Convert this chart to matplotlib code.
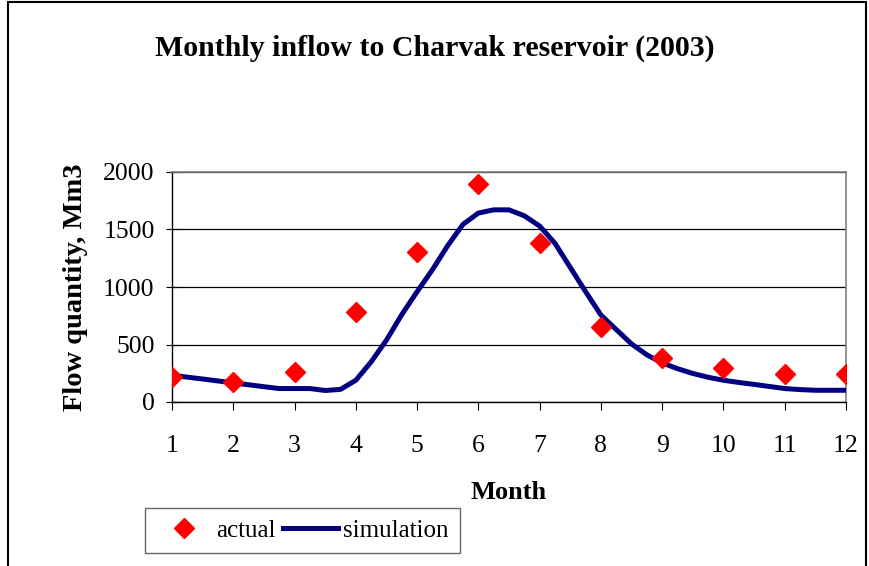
import numpy as np
import matplotlib
matplotlib.use("Agg")
import matplotlib.pyplot as plt
from matplotlib.patches import Rectangle

months = [1, 2, 3, 4, 5, 6, 7, 8, 9, 10, 11, 12]
actual = [215, 174, 259, 785, 1305, 1898, 1381, 654, 384, 300, 244, 244]

sim_month = [1.0, 1.25, 1.5, 1.75, 2.0, 2.25, 2.5, 2.75, 3.0, 3.25, 3.5, 3.75,
             4.0, 4.25, 4.5, 4.75, 5.0, 5.25, 5.5, 5.75, 6.0, 6.25, 6.5, 6.75,
             7.0, 7.25, 7.5, 7.75, 8.0, 8.25, 8.5, 8.75, 9.0, 9.25, 9.5, 9.75,
             10.0, 10.25, 10.5, 10.75, 11.0, 11.25, 11.5, 11.75, 12.0]
simulation = [233, 216, 200, 183, 166, 150, 133, 117, 117, 117, 100, 110,
              189, 349, 538, 760, 959, 1150, 1360, 1545, 1643, 1671, 1671, 1619,
              1530, 1380, 1170, 960, 756, 630, 505, 410, 340, 290, 248, 215,
              189, 170, 153, 135, 117, 108, 102, 102, 102]

plt.rcParams['font.family'] = ['Liberation Serif', 'DejaVu Serif']

fig = plt.figure(figsize=(8.7, 5.66), dpi=100)
ax = fig.add_axes([172/870, 1-402/566, 674/870, 230/566])

ax.plot(months, actual, 'D', color='#ff0000', ms=10, mec='#ff0000', label='actual', zorder=4)
ax.plot(sim_month, simulation, '-', color='#000080', lw=3.6, label='simulation', zorder=3)

ax.set_xlim(1, 12)
ax.set_ylim(0, 2000)
ax.set_xticks(months)
ax.set_yticks([0, 500, 1000, 1500, 2000])
ax.yaxis.grid(True, color='black', lw=0.9)
ax.set_axisbelow(True)
ax.tick_params(axis='x', labelsize=18.5, direction='out', length=6, pad=18, color='black')
ax.tick_params(axis='y', labelsize=18.5, direction='inout', length=9, pad=8, color='black')
for s in ['top', 'right']:
    ax.spines[s].set_color('#808080')
    ax.spines[s].set_linewidth(1.2)
for s in ['left', 'bottom']:
    ax.spines[s].set_color('black')
    ax.spines[s].set_linewidth(1.0)

ax.set_xlabel('Month', fontsize=19, fontweight='bold', labelpad=17)
ax.set_ylabel('Flow quantity, Mm3', fontsize=20.5, fontweight='bold', labelpad=11)

fig.text(0.5, 1-48/566, 'Monthly inflow to Charvak reservoir (2003)', ha='center', va='center',
         fontsize=21.5, fontweight='bold')

leg = fig.legend(loc='upper left', bbox_to_anchor=(145/870, 1-508/566), ncol=2,
                 fontsize=18, frameon=True, fancybox=False, edgecolor='#404040',
                 handlelength=2.2, columnspacing=0.3, handletextpad=0.2, borderpad=0.45,
                 borderaxespad=0)
leg.get_frame().set_linewidth(1.0)

# outer frame, bottom edge cut off
fig.patches.append(Rectangle((8/870, -0.05), 858/870, 1.05 - 2/566, transform=fig.transFigure,
                             fill=False, edgecolor='black', lw=1.5))

fig.savefig('out.png', dpi=100)
